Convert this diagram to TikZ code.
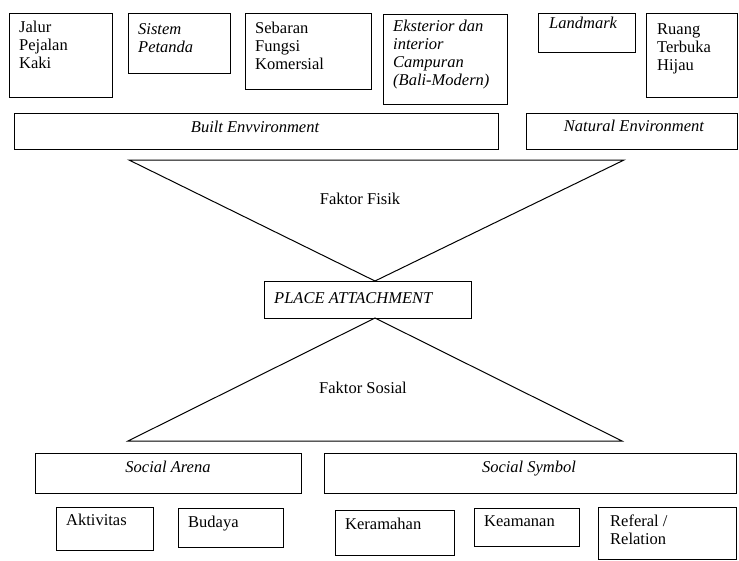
\documentclass[tikz,border=0pt]{standalone}
\usepackage{fontspec}
\setmainfont{Liberation Serif}
\usetikzlibrary{calc}
\begin{document}
\begin{tikzpicture}[x=1pt,y=-1pt,
 box/.style={draw,line width=1pt,anchor=north west,inner sep=0pt,outer sep=0pt},
 txt/.style={font=\fontsize{16.5}{18}\selectfont,align=left,inner sep=0pt,anchor=north west},
 itxt/.style={txt,font=\fontsize{16.5}{18}\selectfont\itshape},
 ctxt/.style={font=\fontsize{16.5}{18}\selectfont\itshape,inner sep=0pt,anchor=base},
 ln/.style={line width=1pt,line join=miter}]
\useasboundingbox (0,0) rectangle (739,560);
% top row boxes
\node[box,minimum width=103pt,minimum height=84pt] (jalur) at (9,13) {};
\node[box,minimum width=102pt,minimum height=60pt] (petanda) at (128,13) {};
\node[box,minimum width=126pt,minimum height=76pt] (sebaran) at (245,13) {};
\node[box,minimum width=124pt,minimum height=90pt] (eksterior) at (383,14) {};
\node[box,minimum width=97pt,minimum height=39pt] (landmark) at (538,13) {};
\node[box,minimum width=91pt,minimum height=84pt] (ruang) at (646,13) {};
\node[txt] (tjalur) at (19,21) {Jalur\\Pejalan\\Kaki};
\node[itxt] (tpetanda) at (138,23) {Sistem\\Petanda};
\node[txt] (tsebaran) at (255,22) {Sebaran\\Fungsi\\Komersial};
\node[itxt] (teksterior) at (393,20) {Eksterior dan\\interior\\Campuran\\(Bali-Modern)};
\node[itxt] (tlandmark) at (549,17) {Landmark};
\node[txt] (truang) at (657,23) {Ruang\\Terbuka\\Hijau};
% environment boxes
\node[box,minimum width=484pt,minimum height=36pt] (built) at (14,113) {};
\node[box,minimum width=211pt,minimum height=36pt] (natural) at (526,113) {};
\node[ctxt] (tbuilt) at (255,132) {Built Envvironment};
\node[ctxt] (tnatural) at (634,131) {Natural Environment};
% upper triangle
\coordinate (tl) at (129,160);
\coordinate (tr) at (624,160);
\coordinate (ta) at (375,281);
\draw[ln] (tl) -- (tr) -- (ta) -- cycle;
\node[ctxt,font=\fontsize{16.5}{18}\selectfont] (fisik) at (360,204) {Faktor Fisik};
% place attachment
\node[box,minimum width=207pt,minimum height=37pt] (place) at (264,281) {};
\node[ctxt,anchor=base west] (tplace) at (274,303) {PLACE ATTACHMENT};
% lower triangle
\coordinate (ba) at (375,318);
\coordinate (bl) at (128,441);
\coordinate (br) at (622,441);
\draw[ln] (ba) -- (bl) -- (br) -- cycle;
\node[ctxt,font=\fontsize{16.5}{18}\selectfont] (sosial) at (363,393) {Faktor Sosial};
% social boxes
\node[box,minimum width=266pt,minimum height=40pt] (arena) at (35,453) {};
\node[box,minimum width=412pt,minimum height=40pt] (symbol) at (324,453) {};
\node[ctxt] (tarena) at (168,472) {Social Arena};
\node[ctxt] (tsymbol) at (529,472) {Social Symbol};
% bottom row
\node[box,minimum width=97pt,minimum height=43pt] (aktivitas) at (56,507) {};
\node[box,minimum width=105pt,minimum height=39pt] (budaya) at (178,508) {};
\node[box,minimum width=119pt,minimum height=45pt] (keramahan) at (335,510) {};
\node[box,minimum width=105pt,minimum height=38pt] (keamanan) at (474,508) {};
\node[box,minimum width=138pt,minimum height=52pt] (referal) at (598,507) {};
\node[txt] (taktivitas) at (66,514) {Aktivitas};
\node[txt] (tbudaya) at (188,516) {Budaya};
\node[txt] (tkeramahan) at (345,518) {Keramahan};
\node[txt] (tkeamanan) at (484,515) {Keamanan};
\node[txt] (treferal) at (610,515) {Referal /\\Relation};
\end{tikzpicture}
\end{document}
